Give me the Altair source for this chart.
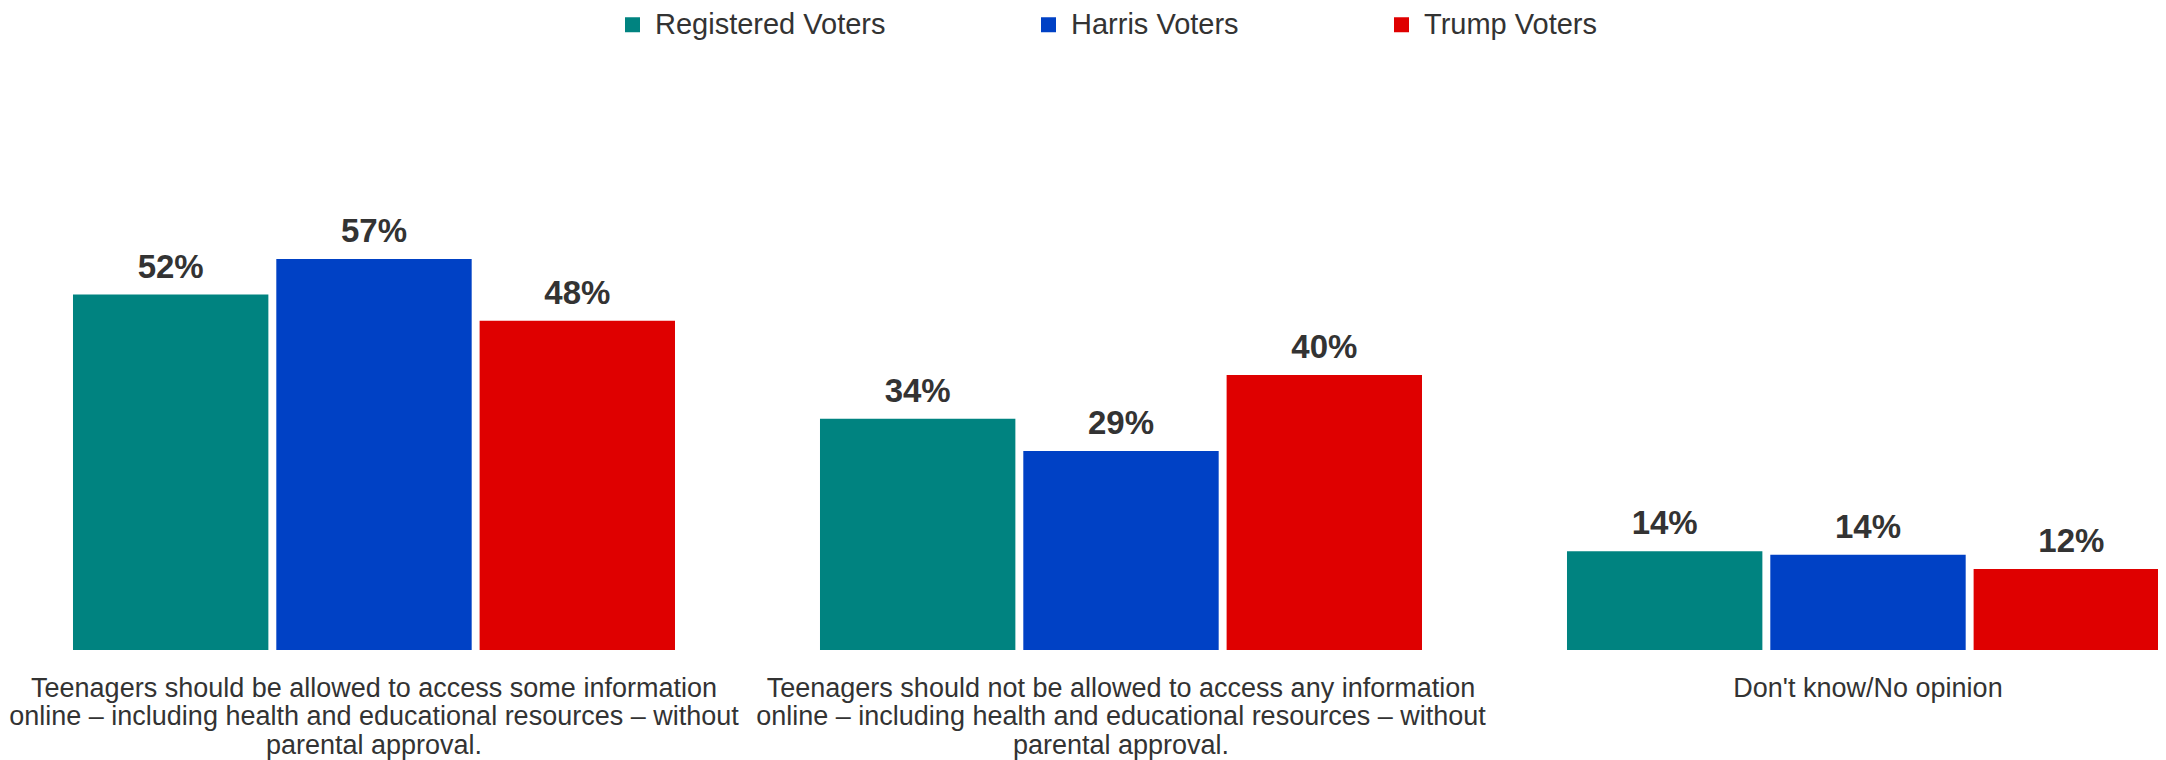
import altair as alt
import pandas as pd

categories = [
    "Teenagers should be allowed to access some information\nonline \u2013 including health and educational resources \u2013 without\nparental approval.",
    "Teenagers should not be allowed to access any information\nonline \u2013 including health and educational resources \u2013 without\nparental approval.",
    "Don't know/No opinion",
]
groups = ["Registered Voters", "Harris Voters", "Trump Voters"]
registered = [51.8, 33.7, 14.4]
harris = [57.0, 29.0, 13.9]
trump = [48.0, 40.1, 11.8]
colors = ["#008380", "#0041C5", "#DF0000"]

rows = []
for g, vals in zip(groups, [registered, harris, trump]):
    for c, v in zip(categories, vals):
        rows.append({"category": c, "group": g, "value": v})
df = pd.DataFrame(rows)

FONT = "Liberation Sans"
TXT = "#333333"

base = alt.Chart(df).encode(
    x=alt.X(
        "category:N",
        sort=categories,
        scale=alt.Scale(range=[0, 2161], paddingInner=0.1941, paddingOuter=0.0435, align=1),
        axis=alt.Axis(
            title=None,
            labelAngle=0,
            domain=False,
            ticks=False,
            tickSize=0,
            labelPadding=25,
            labelFontSize=27,
            labelFont=FONT,
            labelColor=TXT,
            labelExpr="split(datum.label, '\\n')",
            labelLineHeight=28.5,
            labelLimit=900,
            labelOverlap=False,
            labelBound=False,
            labelFlush=False,
        ),
    ),
    xOffset=alt.XOffset(
        "group:N", sort=groups, scale=alt.Scale(paddingInner=0.039, paddingOuter=0)
    ),
)

bars = base.mark_bar(clip=True).encode(
    y=alt.Y("value:Q", scale=alt.Scale(domain=[0, 92.7], nice=False), axis=None),
    color=alt.Color(
        "group:N",
        sort=groups,
        scale=alt.Scale(domain=groups, range=colors),
        legend=alt.Legend(
            title=None,
            orient="none",
            legendX=610,
            legendY=-4,
            direction="horizontal",
            symbolType="square",
            symbolSize=225,
            symbolStrokeWidth=0,
            labelFontSize=29,
            labelFont=FONT,
            labelColor=TXT,
            labelLimit=800,
            labelOffset=8,
            columnPadding=148,
            padding=0,
        ),
    ),
)

labels = base.transform_calculate(
    label="format(datum.value, '.0f') + '%'"
).mark_text(
    dy=-17, baseline="alphabetic", fontSize=33, fontWeight="bold", color=TXT, font=FONT
).encode(
    y=alt.Y("value:Q"),
    text="label:N",
)

chart = (
    alt.layer(bars, labels)
    .properties(
        width=2150,
        height=636,
        padding={"left": 0, "top": 6, "right": 0, "bottom": 110},
        autosize=alt.AutoSizeParams(type="none"),
    )
    .configure(font=FONT)
    .configure_view(stroke=None)
)

chart.save("out.html", embed_options={"renderer": "svg", "actions": False})
